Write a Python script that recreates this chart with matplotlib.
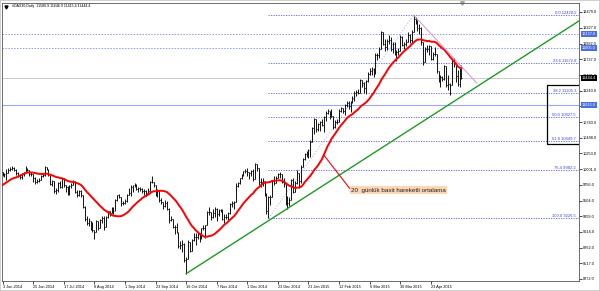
import numpy as np
import pandas as pd
import matplotlib
matplotlib.use("Agg")
import matplotlib.pyplot as plt
import matplotlib.transforms as mtransforms
from matplotlib.patches import Rectangle

# 19 closes before the first visible bar, only used to start the 20 day average
prior_closes = [9530, 9520, 9607, 9581, 9702, 9760, 9754, 9656, 9639, 9630,
                9659, 9721, 9768, 9892, 9940, 9939, 9943, 9950, 9950]

# daily bars, 3 Jun 2014 .. 15 May 2015 (open = previous close)
closes = [
    # Jun
    9920, 9926, 9948, 9987, 10008, 10028, 9990, 9938, 9912, 9883,
    9920, 9942, 10004, 9987, 9921, 9920, 9867, 9804, 9815, 9833,
    # Jul
    9902, 9911, 10029, 10009, 9906, 9772, 9808, 9659, 9666, 9783, 9719, 9859,
    9753, 9720, 9612, 9734, 9753, 9797, 9644, 9594, 9653, 9593, 9407,
    # Aug
    9210, 9154, 9189, 9130, 9039, 9010, 9180, 9070, 9198, 9225, 9092,
    9246, 9335, 9315, 9381, 9339, 9510, 9588, 9569, 9462, 9470,
    # Sep
    9507, 9599, 9627, 9724, 9748, 9758, 9686, 9700, 9692, 9651, 9659,
    9632, 9661, 9799, 9800, 9749, 9595, 9662, 9510, 9490, 9423, 9474,
    # Oct
    9382, 9195, 9209, 9086, 9086, 9005, 8788, 8812, 8825, 8572, 8582,
    8850, 8717, 8886, 8940, 8940, 8988, 8902, 9068, 9082, 9115, 9326,
    # Nov
    9328, 9252, 9315, 9378, 9291, 9352, 9369, 9210, 9249, 9252,
    9306, 9457, 9473, 9483, 9732, 9785, 9861, 9915, 9974, 9980,
    # Dec
    9963, 9934, 9971, 9851, 10087, 10014, 9799, 9799, 9812, 9595,
    9335, 9564, 9563, 9811, 9787, 9865, 9922, 9928, 9806,
    # Jan
    9765, 9473, 9469, 9518, 9838, 9649, 9781, 9941, 9817, 10032, 10168,
    10242, 10257, 10300, 10435, 10649, 10798, 10628, 10710, 10738, 10694,
    # Feb
    10828, 10891, 10911, 10905, 10846, 10664, 10753, 10752, 10920, 10963,
    10924, 11014, 11050, 11001, 11051, 11131, 11206, 11211, 11210, 11402,
    # Mar
    11363, 11280, 11391, 11504, 11551, 11582, 11500, 11806, 11799, 11901, 12167,
    11980, 11922, 12018, 12039, 11896, 11979, 11844, 11844, 11868, 12086, 11966,
    # Apr
    11968, 12002, 12123, 12036, 12166, 12375, 12338, 12227, 12231, 11999,
    11688, 11892, 11896, 11944, 11738, 11811, 11811, 11547, 11432, 11454,
    # May
    11420, 11621, 11327, 11350, 11327, 11709, 11673, 11472, 11351, 11580.9, 11444.4,
]
highs = [
    9960, 9945, 10000, 10015, 10030, 10050, 10030, 10005, 9960, 9920,
    9935, 9955, 10050, 10020, 9990, 9960, 9925, 9880, 9840, 9870,
    9915, 9935, 10050, 10040, 10010, 9910, 9825, 9815, 9700, 9800, 9820, 9870,
    9865, 9760, 9730, 9750, 9780, 9830, 9810, 9670, 9680, 9670, 9600,
    9420, 9260, 9230, 9180, 9170, 9050, 9200, 9190, 9210, 9260, 9260,
    9270, 9350, 9350, 9400, 9400, 9530, 9600, 9610, 9560, 9500,
    9530, 9610, 9700, 9760, 9760, 9790, 9770, 9720, 9720, 9710, 9690,
    9670, 9700, 9810, 9890, 9800, 9720, 9690, 9680, 9540, 9470, 9510,
    9500, 9390, 9260, 9220, 9120, 9150, 9010, 8870, 8890, 8840, 8620,
    8880, 8850, 8900, 8990, 8990, 9000, 8990, 9080, 9130, 9130, 9340,
    9400, 9320, 9380, 9400, 9390, 9370, 9380, 9370, 9300, 9290,
    9320, 9470, 9500, 9500, 9790, 9800, 9870, 9920, 9980, 10010,
    10020, 9960, 9990, 10000, 10099, 10090, 10010, 9860, 9870, 9800,
    9620, 9580, 9600, 9830, 9900, 9890, 9940, 9950, 9920,
    9870, 9700, 9580, 9560, 9850, 9860, 9820, 9990, 9920, 10070, 10180,
    10260, 10290, 10320, 10460, 10660, 10810, 10800, 10730, 10760, 10800,
    10840, 10920, 10950, 10920, 10950, 10800, 10770, 10790, 10950, 10980,
    10970, 11030, 11070, 11080, 11080, 11150, 11230, 11250, 11260, 11420,
    11410, 11380, 11410, 11530, 11600, 11620, 11600, 11830, 11840, 11920, 12180,
    12170, 12060, 12050, 12110, 12080, 12010, 12010, 11880, 11910, 12120, 12100,
    12000, 12050, 12160, 12130, 12200, 12428.5, 12400, 12350, 12290, 12250,
    12000, 11920, 11960, 11960, 11930, 11850, 11920, 11810, 11550, 11480,
    11470, 11640, 11600, 11480, 11360, 11730, 11760, 11660, 11560, 11600, 11646.9,
]
lows = [
    9890, 9880, 9830, 9940, 9975, 9985, 9970, 9915, 9880, 9850,
    9845, 9890, 9935, 9970, 9900, 9890, 9805, 9770, 9780, 9795,
    9830, 9880, 9900, 9985, 9890, 9750, 9740, 9625, 9610, 9650, 9700, 9700,
    9720, 9650, 9590, 9600, 9710, 9750, 9620, 9570, 9580, 9560, 9390,
    9190, 9130, 9110, 9040, 9010, 8903, 9030, 9050, 9080, 9160, 9050,
    9120, 9240, 9270, 9320, 9300, 9380, 9500, 9540, 9420, 9430,
    9450, 9490, 9600, 9580, 9650, 9720, 9670, 9640, 9660, 9630, 9600,
    9580, 9630, 9680, 9780, 9720, 9580, 9560, 9490, 9460, 9370, 9400,
    9360, 9150, 9180, 9070, 8980, 8990, 8760, 8740, 8700, 8540, 8355,
    8620, 8690, 8750, 8870, 8810, 8900, 8860, 8910, 9040, 8910, 9150,
    9280, 9200, 9230, 9250, 9190, 9270, 9320, 9200, 9160, 9210,
    9180, 9290, 9410, 9380, 9490, 9720, 9770, 9840, 9900, 9940,
    9900, 9850, 9900, 9810, 9870, 9980, 9760, 9720, 9740, 9580,
    9300, 9226.5, 9440, 9650, 9760, 9790, 9860, 9860, 9780,
    9720, 9440, 9380, 9420, 9560, 9630, 9640, 9770, 9700, 9790, 10030,
    10150, 10190, 10180, 10200, 10440, 10560, 10580, 10600, 10600, 10680,
    10580, 10760, 10870, 10790, 10820, 10640, 10650, 10710, 10760, 10900,
    10880, 10860, 10980, 10950, 10910, 11040, 11080, 11160, 11180, 11220,
    11300, 11200, 11180, 11370, 11480, 11490, 11460, 11520, 11720, 11760, 11930,
    11960, 11860, 11880, 11980, 11870, 11830, 11800, 11700, 11800, 11870, 11940,
    11900, 11950, 12000, 11990, 11990, 12160, 12290, 12180, 12140, 11960,
    11650, 11700, 11850, 11800, 11720, 11730, 11790, 11520, 11380, 11300,
    11390, 11400, 11300, 11250, 11170, 11400, 11620, 11380, 11320, 11300, 11415.4,
]

date_labels = ["3 Jun 2014", "25 Jun 2014", "17 Jul 2014", "8 Aug 2014", "1 Sep 2014",
               "23 Sep 2014", "16 Oct 2014", "7 Nov 2014", "1 Dec 2014", "23 Dec 2014",
               "21 Jan 2015", "12 Feb 2015", "6 Mar 2015", "30 Mar 2015", "23 Apr 2015"]
price_ticks = [12479, 12227, 11982, 11737, 11485, 11240, 10995, 10743, 10498,
               10253, 10001, 9756, 9504, 9259, 9014, 8762, 8517, 8272]
hidden_ticks = [10995]  # sits under the 11015.0 marker

fib_levels = [0.0, 23.6, 38.2, 50.0, 61.8, 76.4, 100.0]
fib_low = (139, 9226.5)
fib_high = (215, 12428.5)
trend_pts = [(96, 8355), (200, 10371)]
down_pts = [(215, 12428.5), (248, 11360)]
dotted_levels = [12137.0, 11905.0]
solid_level = 11015.0
box_prices = (10405, 11330)
annot_text = "20  günlük basit hareketli ortalama"

plt.rcParams["font.family"] = ["Liberation Sans", "DejaVu Sans"]
fs = 2.8

closes = np.array(closes, dtype=float)
highs = np.array(highs, dtype=float)
lows = np.array(lows, dtype=float)
opens = np.r_[prior_closes[-1], closes[:-1]]
highs = np.maximum(highs, np.maximum(opens, closes))
lows = np.minimum(lows, np.minimum(opens, closes))
x = np.arange(len(closes))
ma = pd.Series(list(prior_closes) + list(closes)).rolling(20).mean().to_numpy()[len(prior_closes):]

fig = plt.figure(figsize=(6, 2.91), dpi=100)
ax = fig.add_axes([2 / 600, 1 - 281 / 291, 577 / 600, 278 / 291])
x0 = -0.3
xr = x0 + 577 / 1.912
ax.set_xlim(x0, xr)
ax.set_ylim(8239.6, 12620.8)

# horizontal levels
for lv in dotted_levels:
    ax.axhline(lv, color="#8c9cff", lw=0.7, ls=(0, (1.5, 1.5)), zorder=1)
ax.axhline(solid_level, color="#99aaf0", lw=0.8, zorder=1)
ax.axhline(closes[-1], color="#c4c4c4", lw=0.6, zorder=1)

# fibonacci
rng = fib_high[1] - fib_low[1]
fib_prices = [fib_high[1] - lv / 100 * rng for lv in fib_levels]
ax.hlines(fib_prices, fib_low[0], xr, colors="#5b5bff", lw=0.6, linestyles=(0, (1.5, 1.5)), zorder=1)
ax.plot([fib_low[0], fib_high[0]], [fib_low[1], fib_high[1]], color="#a8b4ff", lw=0.6,
        ls=(0, (1.5, 2)), zorder=1)
blend = mtransforms.blended_transform_factory(ax.transAxes, ax.transData)
for lv, p in zip(fib_levels, fib_prices):
    ax.text(0.995, p, f"{lv:.1f} {p:.1f}", transform=blend, ha="right", va="bottom",
            fontsize=3.0, color="#4040ff")

# bars
ax.vlines(x, lows, highs, color="#111111", lw=0.7, zorder=3)
ax.hlines(opens, x - 0.45, x, color="#111111", lw=0.6, zorder=3)
ax.hlines(closes, x, x + 0.45, color="#111111", lw=0.6, zorder=3)

# moving average
ax.plot(x, ma, color="#ff0000", lw=1.4, zorder=4)

# trend lines
(ta, pa), (tb, pb) = trend_pts
slope = (pb - pa) / (tb - ta)
ax.plot([ta, 330], [pa, pa + slope * (330 - ta)], color="#1e9b1e", lw=1.0, zorder=4)
ax.plot([down_pts[0][0], down_pts[1][0]], [down_pts[0][1], down_pts[1][1]],
        color="#d690d6", lw=0.7, zorder=4)

ax.add_patch(Rectangle((x0 + 545 / 1.912, box_prices[0]), 40, box_prices[1] - box_prices[0],
                       fill=False, ec="black", lw=0.9, zorder=5))

ax.annotate(annot_text, xy=(168, ma[168]), xytext=(182.2, 9672), ha="left", va="center",
            fontsize=4.5, color="#222222",
            bbox=dict(boxstyle="square,pad=0.2", fc="#fcd6b5", ec="none"),
            arrowprops=dict(arrowstyle="-", color="red", lw=0.8, shrinkA=0, shrinkB=0,
                            relpos=(0, 0.5)), zorder=6)

# axes
ax.yaxis.tick_right()
ax.set_yticks(price_ticks)
ax.set_yticklabels(["" if v in hidden_ticks else f"{v:.1f}" for v in price_ticks])
ax.tick_params(axis="y", labelsize=fs, length=2, pad=1, width=0.5)
ticks_x = np.arange(len(date_labels)) * 16
ax.set_xticks(ticks_x)
ax.set_xticklabels(date_labels)
ax.tick_params(axis="x", labelsize=fs, length=2, pad=1, width=0.5)
for lab in ax.get_xticklabels():
    lab.set_ha("left")
for s in ax.spines.values():
    s.set_color("#555555")
    s.set_linewidth(0.6)

# highlighted price labels on the right axis
for p, c in [(12137.0, "#4a6fe3"), (11905.0, "#4a6fe3"), (solid_level, "#4a6fe3"), (closes[-1], "black")]:
    ax.text(1.0 + 3 / 577, p, f"{p:.1f}", transform=blend, ha="left", va="center", fontsize=fs,
            color="white", clip_on=False, zorder=7,
            bbox=dict(boxstyle="square,pad=0.25", fc=c, ec="none"))

fig.text(12 / 600, 1 - 6 / 291,
         f"#DAX30,Daily  {opens[-1]:.1f} {highs[-1]:.1f} {lows[-1]:.1f} {closes[-1]:.1f}",
         fontsize=2.6, va="center", ha="left")
ax.plot(0.007, 0.987, marker="v", ms=2.2, color="black", transform=ax.transAxes, clip_on=False)
ax.plot(x0 + 460 / 1.912, 1.0, marker="v", ms=2.5, color="#a0a0a0",
        transform=mtransforms.blended_transform_factory(ax.transData, ax.transAxes), clip_on=False)

fig.patches.append(Rectangle((0, 0), 1, 1, transform=fig.transFigure, fill=False,
                             ec="#c8c8c8", lw=1.2))
fig.savefig("out.png", dpi=100)
